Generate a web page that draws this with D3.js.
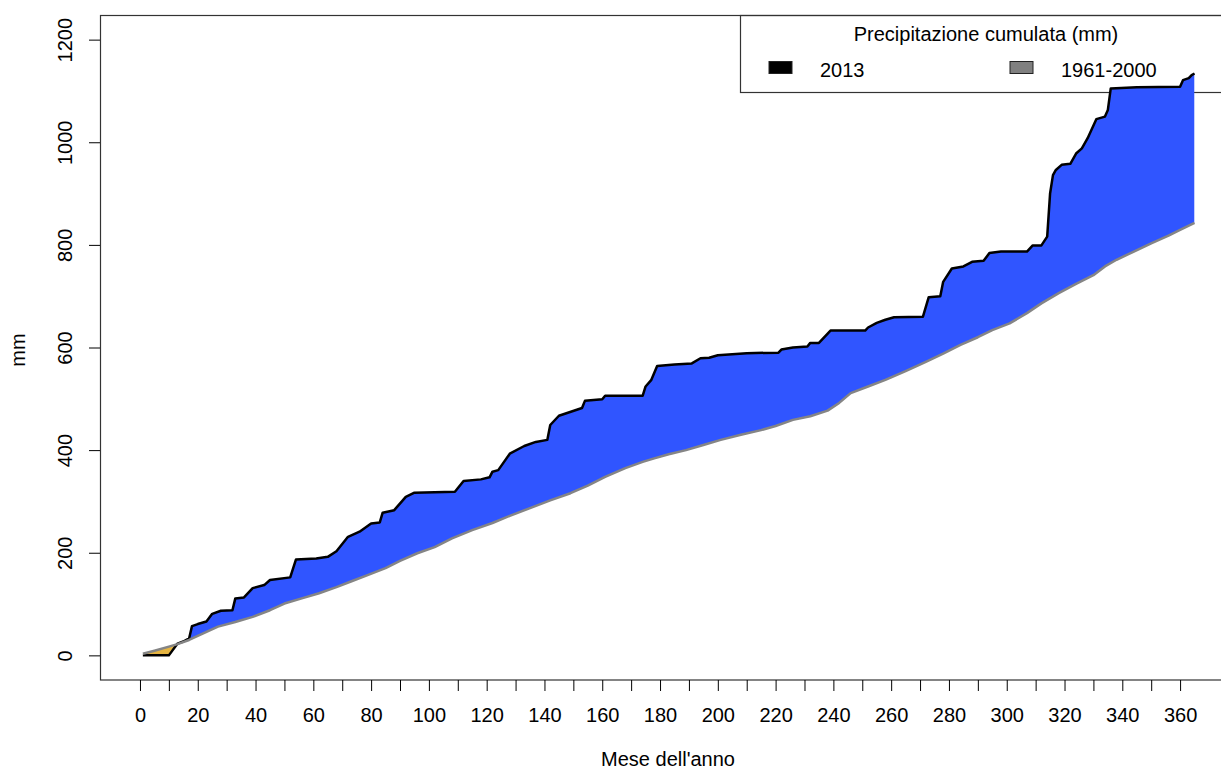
<!DOCTYPE html>
<html>
<head>
<meta charset="utf-8">
<script src="https://cdn.jsdelivr.net/npm/d3@7"></script>
<style>
  body { margin: 0; background: #fff; }
  text { font-family: "Liberation Sans", Arial, sans-serif; fill: #000; }
</style>
</head>
<body>
<div id="chart"></div>
<script>
// Data: 2013 cumulative precipitation (day, mm) breakpoints
var days2013 = [1, 10, 13, 15, 17, 18, 20, 23, 25, 28, 32, 33, 36, 39, 43, 45, 52, 54, 61, 65, 68, 72, 76, 80, 83, 84, 88, 92, 95, 109, 112, 118, 121, 122, 124, 128, 133, 137, 141, 142, 145, 153, 154, 160, 161, 174, 175, 177, 179, 185, 191, 194, 197, 200, 210, 221, 222, 226, 231, 232, 235, 239, 251, 252, 255, 258, 261, 271, 273, 277, 278, 281, 285, 288, 292, 294, 298, 307, 309, 312, 314, 315, 316, 317, 319, 322, 324, 326, 328, 331, 334, 335, 336, 345, 360, 361, 363, 364, 365];
var mm2013 = [0, 0, 23, 27, 33, 57, 61, 66, 81, 87, 88, 111, 113, 131, 137, 147, 152, 187, 189, 192, 203, 231, 241, 257, 259, 278, 283, 309, 317, 319, 340, 343, 347, 358, 361, 393, 408, 416, 420, 449, 467, 482, 496, 499, 506, 506, 524, 537, 564, 567, 569, 579, 580, 585, 589, 590, 596, 600, 602, 609, 609, 633, 633, 639, 648, 654, 659, 660, 698, 700, 728, 754, 758, 767, 769, 784, 787, 787, 799, 799, 816, 900, 936, 946, 956, 958, 978, 988, 1008, 1045, 1050, 1063, 1105, 1107, 1108, 1121, 1125, 1131, 1134];

// Data: 1961-2000 mean cumulative precipitation (day, mm)
var daysNorm = [1, 5, 10, 13, 17, 20, 27, 33, 39, 45, 50, 56, 62, 68, 73, 79, 85, 90, 96, 102, 108, 115, 122, 128, 135, 142, 149, 155, 161, 168, 174, 178, 183, 189, 195, 201, 208, 215, 220, 226, 232, 238, 242, 246, 252, 258, 265, 272, 278, 284, 290, 295, 301, 307, 312, 318, 324, 330, 334, 338, 344, 350, 356, 360, 365];
var mmNorm = [3, 9, 17, 22, 30, 38, 56, 65, 75, 88, 101, 111, 121, 133, 144, 157, 170, 184, 199, 211, 228, 244, 258, 272, 287, 302, 316, 331, 348, 365, 377, 384, 392, 400, 410, 420, 430, 439, 447, 459, 466, 477, 492, 511, 524, 537, 554, 572, 588, 605, 620, 634, 647, 667, 686, 706, 724, 741, 758, 771, 787, 803, 818, 829, 843];

// Tick values
var xTicks = d3.range(0, 361, 10);
var xLabels = d3.range(0, 361, 20);
var yTicks = [0, 200, 400, 600, 800, 1000, 1200];

var legendNames = ["2013", "1961-2000"];
var legendColors = ["#000000", "#808080"];

// SVG area
var svgWidth = 1221;
var svgHeight = 769;
var fontSize = "20px";

var svg = d3.select("#chart")
  .append("svg")
  .attr("width", svgWidth)
  .attr("height", svgHeight);

// Scales (R style 4% padding)
var xScale = d3.scaleLinear()
  .domain([-13.56, 379.56])
  .range([100.8, 1236.6]);
var yScale = d3.scaleLinear()
  .domain([-48, 1248])
  .range([680, 15]);

var data2013 = days2013.map(function(d, i) { return { day: d, mm: mm2013[i] }; });
var dataNorm = daysNorm.map(function(d, i) { return { day: d, mm: mmNorm[i] }; });

var plotTop = yScale.range()[1];
var plotBottom = yScale.range()[0];

// legend first, the data is drawn over it
var legend = svg.append("g");
legend.append("rect")
  .attr("x", 740.5)
  .attr("y", 15.5)
  .attr("width", 520)
  .attr("height", 77)
  .attr("fill", "#fff")
  .attr("stroke", "#333")
  .attr("stroke-width", 1.2);
legend.append("text")
  .attr("x", 986)
  .attr("y", 41)
  .attr("text-anchor", "middle")
  .style("font-size", fontSize)
  .text("Precipitazione cumulata (mm)");
var legX = [769, 1010];
legendNames.forEach(function(name, i) {
  legend.append("rect")
    .attr("x", legX[i])
    .attr("y", 61.5)
    .attr("width", 23)
    .attr("height", 12)
    .attr("fill", legendColors[i])
    .attr("stroke", "#222");
  legend.append("text")
    .attr("x", legX[i] + 51)
    .attr("y", 77)
    .style("font-size", fontSize)
    .text(name);
});

// clip paths: above the normal line, above the 2013 line
var defs = svg.append("defs");
defs.append("clipPath").attr("id", "aboveNorm")
  .append("path")
  .attr("d", d3.area().x(d => xScale(d.day)).y0(d => yScale(d.mm)).y1(plotTop)(dataNorm));
defs.append("clipPath").attr("id", "above2013")
  .append("path")
  .attr("d", d3.area().x(d => xScale(d.day)).y0(d => yScale(d.mm)).y1(plotTop)(data2013));

// surplus (blue) and deficit (gold)
svg.append("path")
  .attr("clip-path", "url(#aboveNorm)")
  .attr("d", d3.area().x(d => xScale(d.day)).y0(plotBottom).y1(d => yScale(d.mm))(data2013))
  .attr("fill", "#3055ff");
svg.append("path")
  .attr("clip-path", "url(#above2013)")
  .attr("d", d3.area().x(d => xScale(d.day)).y0(plotBottom).y1(d => yScale(d.mm))(dataNorm))
  .attr("fill", "#e5b441");

// lines
var line = d3.line().x(d => xScale(d.day)).y(d => yScale(d.mm));
svg.append("path")
  .attr("d", line(data2013))
  .attr("fill", "none")
  .attr("stroke", "#000")
  .attr("stroke-width", 2.5)
  .attr("stroke-linejoin", "round");
svg.append("path")
  .attr("d", line(dataNorm))
  .attr("fill", "none")
  .attr("stroke", "#858585")
  .attr("stroke-width", 2.5)
  .attr("stroke-linejoin", "round");

// box around plot
svg.append("rect")
  .attr("x", 100.5)
  .attr("y", 15.5)
  .attr("width", 1136)
  .attr("height", 664.5)
  .attr("fill", "none")
  .attr("stroke", "#333")
  .attr("stroke-width", 1.2);

// x axis
var xAxis = svg.append("g")
  .attr("transform", `translate(0, 680)`)
  .call(d3.axisBottom(xScale).tickValues(xTicks).tickSize(11)
    .tickFormat(d => xLabels.indexOf(d) >= 0 ? d : ""));
xAxis.select(".domain").remove();
xAxis.selectAll("line").attr("stroke", "#000");
xAxis.selectAll("text")
  .attr("y", 42)
  .attr("dy", 0)
  .style("font-size", fontSize)
  .style("font-family", "Liberation Sans, Arial, sans-serif");

// y axis
var yAxis = svg.append("g")
  .attr("transform", `translate(100, 0)`)
  .call(d3.axisLeft(yScale).tickValues(yTicks).tickSize(11).tickFormat(d3.format("d")));
yAxis.select(".domain").remove();
yAxis.selectAll("line").attr("stroke", "#000");
yAxis.selectAll("text")
  .attr("x", 0)
  .attr("dy", 0)
  .attr("transform", "translate(-28,0) rotate(-90)")
  .attr("text-anchor", "middle")
  .style("font-size", fontSize)
  .style("font-family", "Liberation Sans, Arial, sans-serif");

// axis titles
svg.append("text")
  .attr("transform", "translate(25, 350) rotate(-90)")
  .attr("text-anchor", "middle")
  .style("font-size", fontSize)
  .text("mm");
svg.append("text")
  .attr("x", 668)
  .attr("y", 766)
  .attr("text-anchor", "middle")
  .style("font-size", fontSize)
  .text("Mese dell'anno");
</script>
</body>
</html>
